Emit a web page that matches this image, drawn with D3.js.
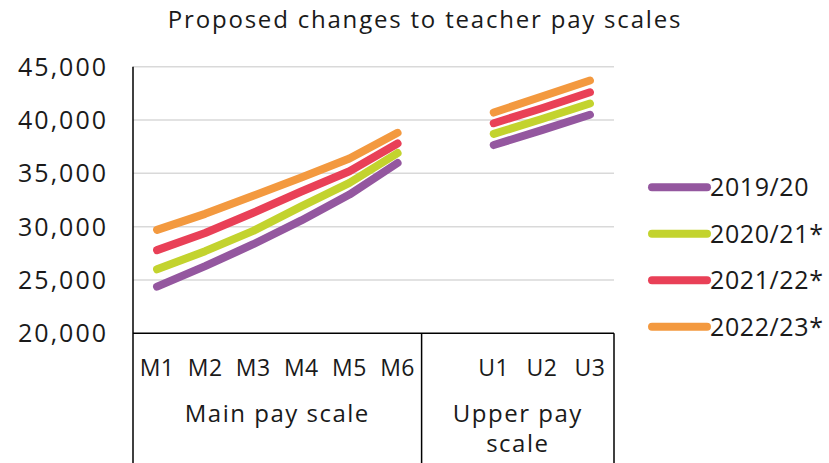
<!DOCTYPE html>
<html>
<head>
<meta charset="utf-8">
<script src="https://cdn.jsdelivr.net/npm/d3@7"></script>
<style>
  body { margin: 0; background: #fff; }
  text { font-family: "Open Sans", sans-serif; fill: #1a1a1a; }
</style>
</head>
<body>
<div id="chart"></div>
<script>
// slot " " is the empty gap between the two pay scales
var categories = ["M1", "M2", "M3", "M4", "M5", "M6", " ", "U1", "U2", "U3"];
var mainSteps = ["M1", "M2", "M3", "M4", "M5", "M6"];
var upperSteps = ["U1", "U2", "U3"];
var seriesNames = ["2019/20", "2020/21*", "2021/22*", "2022/23*"];
var colors = ["#94579f", "#c3d32e", "#e94057", "#f3993f"];

var pay2019 = [24373, 26298, 28352, 30584, 33010, 35971, 37654, 39050, 40490];
var pay2020 = [26000, 27700, 29600, 31900, 34100, 36900, 38700, 40100, 41550];
var pay2021 = [27800, 29400, 31300, 33300, 35200, 37800, 39700, 41100, 42600];
var pay2022 = [29700, 31200, 32900, 34600, 36400, 38800, 40700, 42200, 43700];
var yTicks = [20000, 25000, 30000, 35000, 40000, 45000];

var allSeries = [pay2019, pay2020, pay2021, pay2022];
var steps = mainSteps.concat(upperSteps);

var w = 829;
var h = 463;
var plotLeft = 133, plotRight = 614, plotTop = 66.7, plotBottom = 333.3;

var svg = d3.select("#chart")
  .append("svg")
  .attr("width", w)
  .attr("height", h);

var xScale = d3.scaleBand()
  .domain(categories)
  .range([plotLeft, plotRight]);

var yScale = d3.scaleLinear()
  .domain([20000, 45000])
  .range([plotBottom, plotTop]);

var cx = function(c) { return xScale(c) + xScale.bandwidth() / 2; };

// gridlines
svg.selectAll(".grid")
  .data(yTicks.slice(1))
  .enter()
  .append("line")
  .attr("x1", plotLeft)
  .attr("x2", plotRight)
  .attr("y1", function(d) { return yScale(d); })
  .attr("y2", function(d) { return yScale(d); })
  .attr("stroke", "#d9d9d9")
  .attr("stroke-width", 1.5);

// y axis labels
svg.selectAll(".ylabel")
  .data(yTicks)
  .enter()
  .append("text")
  .attr("x", 108)
  .attr("y", function(d) { return yScale(d); })
  .attr("dy", "0.36em")
  .attr("text-anchor", "end")
  .attr("font-size", "25px")
  .attr("letter-spacing", "2px")
  .text(function(d) { return d3.format(",")(d); });

// lines, one piece per pay scale
var line = d3.line()
  .x(function(d) { return cx(d.step); })
  .y(function(d) { return yScale(d.value); });

allSeries.forEach(function(values, i) {
  var pts = steps.map(function(s, j) { return { step: s, value: values[j] }; });
  [pts.slice(0, 6), pts.slice(6)].forEach(function(part) {
    svg.append("path")
      .datum(part)
      .attr("fill", "none")
      .attr("stroke", colors[i])
      .attr("stroke-width", 8)
      .attr("stroke-linecap", "round")
      .attr("stroke-linejoin", "round")
      .attr("d", line);
  });
});

// axis frame
var ax = svg.append("g").attr("stroke", "#000").attr("stroke-width", 1.5);
ax.append("line").attr("x1", plotLeft).attr("x2", plotLeft).attr("y1", plotTop).attr("y2", h);
ax.append("line").attr("x1", plotLeft).attr("x2", plotRight).attr("y1", plotBottom).attr("y2", plotBottom);
ax.append("line").attr("x1", xScale(" ")).attr("x2", xScale(" ")).attr("y1", plotBottom).attr("y2", h);
ax.append("line").attr("x1", plotRight).attr("x2", plotRight).attr("y1", plotBottom).attr("y2", h);

// category labels
svg.selectAll(".xlabel")
  .data(steps)
  .enter()
  .append("text")
  .attr("x", function(d) { return cx(d); })
  .attr("y", 376)
  .attr("text-anchor", "middle")
  .attr("font-size", "23px")
  .attr("letter-spacing", "0.5px")
  .text(function(d) { return d; });

var upperMid = (xScale(" ") + plotRight) / 2;

svg.append("text")
  .attr("x", (plotLeft + xScale(" ")) / 2)
  .attr("y", 422)
  .attr("text-anchor", "middle")
  .attr("font-size", "24px")
  .attr("letter-spacing", "1.5px")
  .text("Main pay scale");

svg.append("text")
  .attr("x", upperMid)
  .attr("y", 422)
  .attr("text-anchor", "middle")
  .attr("font-size", "24px")
  .attr("letter-spacing", "1.5px")
  .text("Upper pay");

svg.append("text")
  .attr("x", upperMid)
  .attr("y", 452)
  .attr("text-anchor", "middle")
  .attr("font-size", "24px")
  .attr("letter-spacing", "1.5px")
  .text("scale");

// title
svg.append("text")
  .attr("x", 425)
  .attr("y", 28)
  .attr("text-anchor", "middle")
  .attr("font-size", "24px")
  .attr("letter-spacing", "1.8px")
  .text("Proposed changes to teacher pay scales");

// legend
var legend = svg.selectAll(".legend")
  .data(seriesNames)
  .enter()
  .append("g")
  .attr("transform", function(d, i) { return "translate(652," + (187.3 + i * 46.5) + ")"; });

legend.append("line")
  .attr("x1", 0)
  .attr("x2", 55)
  .attr("stroke", function(d, i) { return colors[i]; })
  .attr("stroke-width", 8)
  .attr("stroke-linecap", "round");

legend.append("text")
  .attr("x", 58)
  .attr("dy", "0.36em")
  .attr("font-size", "25px")
  .attr("letter-spacing", "0.6px")
  .text(function(d) { return d; });
</script>
</body>
</html>
